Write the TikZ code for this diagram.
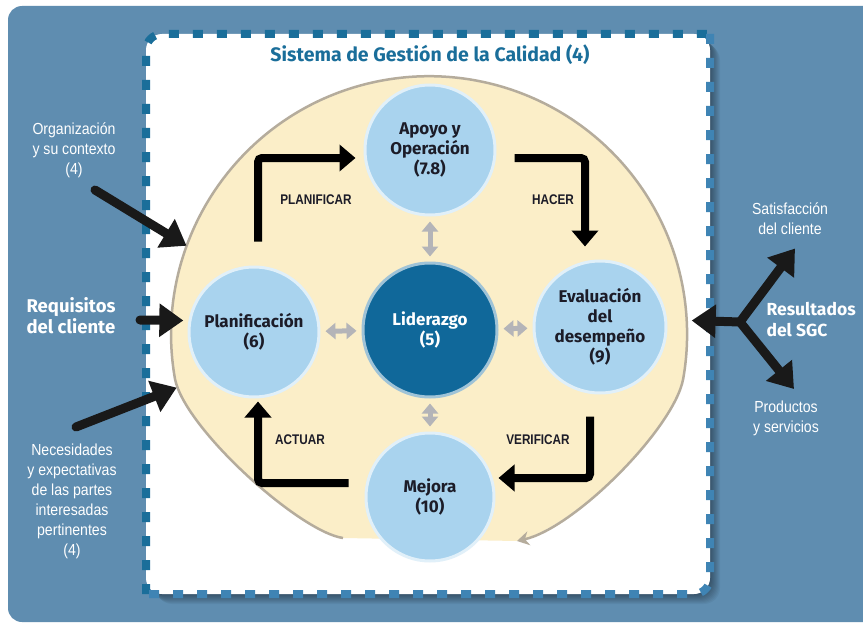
\documentclass[tikz,border=0pt]{standalone}
\usepackage{fontspec}
\setmainfont{Fira Sans}
\newfontfamily\narrowfont{Liberation Sans}[FakeStretch=0.88]
\newfontfamily\narrowbold{Liberation Sans Bold}[FakeStretch=0.84]
\usetikzlibrary{arrows.meta,calc}

\definecolor{bgblue}{HTML}{5F8DB0}
\definecolor{dashdark}{HTML}{1A6E9A}
\definecolor{dashlight}{HTML}{3F84B4}
\definecolor{beige}{HTML}{FBEEC8}
\definecolor{rimgray}{HTML}{B5AC9C}
\definecolor{lightblue}{HTML}{A9D3EE}
\definecolor{darkblue}{HTML}{10689A}
\definecolor{softgray}{HTML}{B4B4B8}
\definecolor{inktext}{HTML}{1C1C28}

\tikzset{
  phase/.style={circle, fill=lightblue, draw=white!65!lightblue, line width=3pt,
    minimum size=#1, inner sep=0pt, align=center, text=inktext,
    font=\bfseries\fontsize{17}{20}\selectfont},
  phase/.default=130pt,
  core/.style={phase=134pt, fill=darkblue, draw=white!60!darkblue, text=white},
  cyclearrow/.style={line width=8pt, rounded corners=4pt,
    -{Triangle[width=26pt,length=16pt]}},
  steplabel/.style={text=inktext, font=\narrowbold\fontsize{14}{16}\selectfont},
  link/.style={softgray, line width=5pt,
    {Triangle[width=16pt,length=10pt]}-{Triangle[width=16pt,length=10pt]},
    shorten <=5pt, shorten >=5pt},
  feed/.style={line width=9pt, line cap=round, black!90,
    -{Triangle[width=32pt,length=24pt]}},
  sidelabel/.style={text=white, align=center,
    font=\narrowfont\fontsize{16}{20}\selectfont},
  biglabel/.style={text=white, align=left, anchor=west,
    font=\bfseries\fontsize{18.5}{21}\selectfont},
  border/.style={line width=8pt, dash pattern=on 10pt off 14pt}
}

\begin{document}
\begin{tikzpicture}[x=1pt,y=-1pt]
\useasboundingbox (0,0) rectangle (863,626);

% page background
\fill[white] (0,0) rectangle (863,626);
\begin{scope}
  \clip (0,0) rectangle (863,626);
  \fill[bgblue, rounded corners=14] (8,6) rectangle (900,622);
\end{scope}

% soft shadow under the system frame
\foreach \s in {1,...,10}
  \fill[black, opacity=0.045, rounded corners=16]
    (146+\s,34+\s) rectangle (710+\s,594+\s);

% system frame
\fill[white, rounded corners=16] (146,34) rectangle (710,594);
\draw[border, dashdark, rounded corners=16]
  (146,594) -- (146,34) -- (710,34);
\draw[border, dashlight, rounded corners=16]
  (710,34) -- (710,594) -- (146,594);

\node[text=dashdark, font=\bfseries\fontsize{19.5}{22}\selectfont]
  (title) at (430,55) {Sistema de Gestión de la Calidad (4)};

% circular process area, curling in towards the improvement step
\node[circle, minimum size=516pt, inner sep=0pt, outer sep=0pt] (sgc) at (429,334) {};
\fill[beige]
  (343,538) .. controls (300,532) and (185,429) .. (175,379)
  arc[start angle=170, end angle=370, radius=258]
  .. controls (674,428) and (575,528) .. (517,541) -- cycle;
\draw[rimgray, line width=2.5pt, -{Stealth[width=14pt,length=12pt]}]
  (343,538) .. controls (300,532) and (185,429) .. (175,379)
  arc[start angle=170, end angle=370, radius=258]
  .. controls (674,428) and (575,528) .. (517,541);

% process steps
\node[phase] (apoyo) at (430,150) {Apoyo y\\Operación\\(7.8)};
\node[phase] (plan) at (254,332) {Planificación\\(6)};
\node[core] (lider) at (430,330) {Liderazgo\\(5)};
\node[phase=132pt] (evalu) at (600,327) {Evaluación\\del\\desempeño\\(9)};
\node[phase=128pt] (mejora) at (430,497) {Mejora\\(10)};

% links to leadership
\draw[link] (apoyo) -- (lider);
\draw[link] (lider) -- (mejora);
\draw[link] (plan) -- (lider);
\draw[link] (lider) -- (evalu);

% PDCA cycle
\draw[cyclearrow] ($(plan.north)+(4,-24)$) |- ($(apoyo.west)+(-8,8)$);
\draw[cyclearrow] ($(apoyo.east)+(18,8)$) -| ($(evalu.north)+(-15,-13)$);
\draw[cyclearrow] ($(evalu.south)+(-10,22)$) |- ($(mejora.east)+(3,-19)$);
\draw[cyclearrow] ($(mejora.west)+(-16,-14)$) -| ($(plan.south)+(4,3)$);

\node[steplabel] (lplan) at (316,200) {PLANIFICAR};
\node[steplabel] (lhacer) at (553,200) {HACER};
\node[steplabel] (lverif) at (538,440) {VERIFICAR};
\node[steplabel] (lactuar) at (300,440) {ACTUAR};

% inputs
\node[sidelabel] (org) at (74,150) {Organización\\y su contexto\\(4)};
\node[biglabel] (req) at (23,316) {Requisitos\\del cliente};
\node[sidelabel] (nec) at (72,501)
  {Necesidades\\y expectativas\\de las partes\\interesadas\\pertinentes\\(4)};

\coordinate (orgtail) at (95,190);
\coordinate (reqtail) at (140,320);
\coordinate (nectail) at (76,427);
\draw[feed] (orgtail) -- (sgc.160);
\draw[feed] (reqtail) -- ($(sgc.177)+(12,0)$);
\draw[feed] (nectail) -- (sgc.192);

% outputs
\node[sidelabel] (sat) at (790,219) {Satisfacción\\del cliente};
\node[biglabel, font=\bfseries\fontsize{17.5}{21}\selectfont]
  (res) at (763,320) {Resultados\\del SGC};
\node[sidelabel] (prod) at (786,418) {Productos\\y servicios};

\coordinate (hub) at (740,322);
\draw[feed] (hub) -- ($(sgc.3)+(5,0)$);
\draw[feed] (hub) -- ($(sat.south)+(5,10)$);
\draw[feed] (hub) -- ($(prod.north)+(8,-8)$);
\end{tikzpicture}
\end{document}
